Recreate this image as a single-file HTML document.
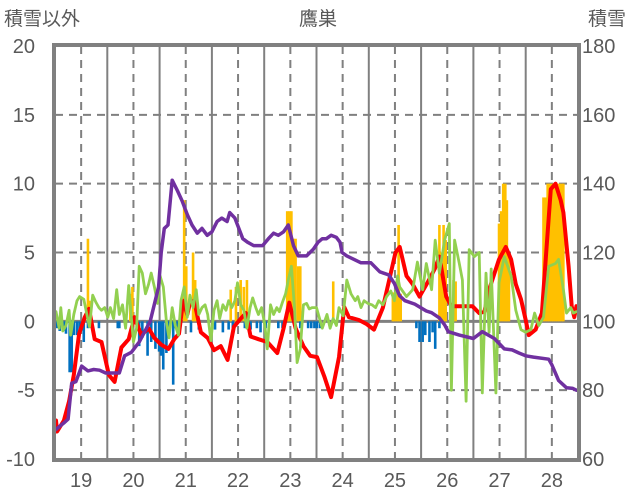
<!DOCTYPE html>
<html><head><meta charset="utf-8">
<style>
html,body{margin:0;padding:0;background:#fff;}
svg{display:block;font-family:"Liberation Sans","Noto Sans CJK JP",sans-serif;}
</style></head>
<body>
<svg id="chart" width="636" height="501" viewBox="0 0 636 501" xmlns="http://www.w3.org/2000/svg">
<text x="318" y="25" font-size="19" fill="#595959" text-anchor="middle">鷹巣</text>
<text x="4" y="25" font-size="19" fill="#595959">積雪以外</text>
<text x="588" y="25" font-size="19" fill="#595959">積雪</text>
<g id="grid"></g>
<g id="bars"></g>
<g id="lines"></g>
<g id="frame"></g>
<g id="ticks"></g>
</svg>
<script>
const leftTicks=[-10,-5,0,5,10,15,20];
const rightTicks=[60,80,100,120,140,160,180];
const xLabels=[19,20,21,22,23,24,25,26,27,28];
const redX=[18.52,18.54,18.67,18.77,18.86,18.96,19.07,19.15,19.26,19.39,19.53,19.64,19.77,19.91,20.02,20.15,20.29,20.40,20.53,20.67,20.78,20.87,20.95,21.03,21.08,21.16,21.29,21.42,21.54,21.67,21.80,21.92,22.05,22.15,22.24,22.39,22.56,22.75,22.87,22.98,23.10,23.25,23.38,23.51,23.65,23.78,23.93,24.03,24.12,24.31,24.46,24.60,24.77,24.92,25.01,25.09,25.22,25.34,25.47,25.62,25.76,25.85,25.98,26.08,26.29,26.48,26.61,26.71,26.80,26.99,27.12,27.22,27.31,27.41,27.50,27.56,27.69,27.81,27.90,27.98,28.07,28.17,28.22,28.32,28.38,28.43,28.47];
const redY=[-7.2,-8.0,-7.2,-5.8,-3.9,-0.9,0.3,0.9,-1.3,-1.5,-3.9,-4.4,-1.9,-1.3,0.3,-1.0,-0.5,-1.2,-1.7,-2.0,-1.3,-0.9,1.5,0.5,1.3,1.5,-0.8,-1.2,-2.1,-1.8,-2.8,-0.4,0.2,0.6,-1.1,-1.3,-1.5,-2.3,-0.5,1.35,-0.5,-1.8,-2.5,-2.6,-4.0,-5.5,-2.6,1.05,0.3,0.1,-0.2,-0.6,1.0,3.5,5.0,5.4,3.3,2.7,1.8,2.8,3.8,4.7,1.8,1.1,1.1,1.1,0.6,0.7,2.3,4.5,5.4,4.5,2.7,1.6,0.1,-1.0,-0.6,0.6,5.4,9.6,10.0,8.8,7.9,4.0,1.1,0.3,1.1];
const greenX=[18.52,18.58,18.61,18.65,18.71,18.77,18.80,18.86,18.92,18.97,19.05,19.11,19.16,19.22,19.28,19.34,19.39,19.45,19.51,19.56,19.62,19.68,19.73,19.79,19.85,19.91,19.94,20.00,20.06,20.11,20.17,20.23,20.29,20.34,20.40,20.46,20.51,20.57,20.63,20.68,20.74,20.80,20.86,20.91,20.97,21.03,21.08,21.14,21.20,21.25,21.31,21.37,21.42,21.48,21.54,21.60,21.65,21.71,21.77,21.82,21.88,21.94,21.99,22.05,22.11,22.17,22.23,22.28,22.34,22.39,22.45,22.51,22.56,22.62,22.68,22.74,22.79,22.85,22.91,22.96,23.02,23.08,23.13,23.19,23.25,23.31,23.36,23.42,23.50,23.61,23.70,23.76,23.82,23.88,23.93,24.01,24.08,24.16,24.24,24.29,24.35,24.41,24.48,24.56,24.63,24.69,24.77,24.84,24.92,24.99,25.05,25.09,25.22,25.34,25.43,25.53,25.60,25.70,25.77,25.85,25.95,26.04,26.08,26.14,26.23,26.29,26.36,26.42,26.52,26.61,26.67,26.74,26.80,26.84,26.93,26.99,27.09,27.22,27.31,27.41,27.50,27.60,27.67,27.75,27.84,27.94,28.07,28.13,28.22,28.28,28.36,28.41,28.47];
const greenY=[0.7,-0.5,1.0,-0.7,-0.3,0.8,-1.0,0.5,1.5,1.8,1.6,0.5,-0.4,1.9,1.4,1.0,0.8,1.0,0.3,1.0,0.2,2.3,0.5,1.2,-0.5,2.6,1.2,-1.5,-0.5,4.0,3.5,2.0,2.7,3.5,2.5,1.3,3.3,2.5,0.0,-1.2,1.0,-0.3,-1.0,1.5,2.5,0.3,1.9,1.0,2.3,0.5,1.0,1.2,0.5,-1.4,0.8,1.5,0.2,1.2,0.8,1.5,1.0,1.5,2.8,1.2,0.8,-0.5,1.0,1.7,1.0,0.5,1.0,-0.2,-2.0,1.2,0.5,1.0,0.7,1.4,2.0,3.0,4.0,1.0,-3.0,-2.0,1.2,1.3,0.9,1.0,1.0,-0.5,0.5,-0.5,0.2,-0.3,1.0,0.4,3.0,2.0,1.5,1.8,1.0,1.5,1.3,1.2,1.0,1.5,1.2,1.8,2.2,1.5,3.3,2.5,1.8,2.3,4.3,2.3,4.2,2.3,5.9,3.5,5.9,7.1,-5.0,5.9,4.2,3.0,-5.8,5.2,4.7,5.0,-5.2,3.5,-0.8,3.8,-5.2,2.8,4.7,3.3,0.8,-0.6,-0.8,-0.6,0.6,-0.3,0.3,4.0,4.2,4.5,2.3,0.6,1.0,0.6,0.7];
const purpleX=[18.52,18.67,18.75,18.82,18.90,19.01,19.13,19.24,19.35,19.47,19.62,19.73,19.83,19.96,20.11,20.25,20.32,20.48,20.53,20.59,20.66,20.74,20.84,20.93,21.03,21.12,21.22,21.31,21.41,21.50,21.60,21.69,21.79,21.84,21.94,22.09,22.18,22.30,22.47,22.58,22.68,22.77,22.87,22.96,23.06,23.15,23.31,23.44,23.53,23.61,23.69,23.78,23.88,23.95,23.99,24.08,24.35,24.54,24.71,24.88,24.99,25.09,25.19,25.38,25.60,25.70,25.85,25.95,26.02,26.23,26.50,26.67,26.90,27.09,27.24,27.37,27.50,27.65,27.94,28.00,28.13,28.28,28.40,28.47];
const purpleY=[68.6,70.5,71.6,82,82.5,87,85.6,86,85.8,85,85,85,90,91,94,98,100,110,120,127,128,141,138,135,131,128,125.6,127,125,126,129,130,129,131.6,130,124,123,122,122,124,125.6,125,126,128,122,119,119,121,123,124,124,125,124.4,123,120,119,117,117,114.4,113.5,111,107.4,106,105,103,102.5,101,99,97,96,95,97,95,92,91.7,90.8,90,89.6,89,87.4,82.8,80.7,80.5,80];
const orangeX=[19.13,19.16,19.94,19.98,20.97,21.01,21.14,21.18,21.86,21.96,22.05,22.11,22.17,22.94,22.98,23.02,23.06,23.10,23.15,23.19,23.82,24.96,24.99,25.03,25.07,25.11,25.85,25.89,25.93,25.97,26.06,26.12,26.16,26.99,27.03,27.07,27.11,27.14,27.18,27.84,27.88,27.92,27.96,28.00,28.03,28.07,28.11,28.15,28.19,28.22];
const orangeY=[6.0,1.5,2.0,2.5,8.8,4.0,5.0,3.0,2.3,2.5,3.0,2.5,3.0,8.0,8.0,8.0,6.0,6.0,4.0,4.0,2.9,2.1,2.1,2.1,7.0,2.0,7.0,5.0,7.0,5.9,1.0,3.0,2.9,7.1,8.0,10,10,8.8,4.7,9.0,9.0,10,10,10,10,10,10,10,10,10];
const blueX=[18.54,18.59,18.67,18.71,18.78,18.82,18.86,18.92,18.97,19.05,19.13,19.34,19.70,19.73,19.98,20.11,20.17,20.27,20.34,20.42,20.49,20.53,20.57,20.63,20.68,20.76,20.84,21.10,21.25,21.56,21.71,21.82,21.90,22.13,22.24,22.36,22.43,22.53,22.77,22.85,23.19,23.34,23.40,23.46,23.51,23.57,25.41,25.47,25.53,25.58,25.66,25.72,25.77,25.85];
const blueY=[-0.5,-0.7,-0.7,-0.9,-3.7,-3.7,-1.0,-1.0,-0.7,-1.5,-0.5,-0.5,-0.5,-0.5,-0.8,-1.8,-1.2,-2.5,-1.5,-2.0,-2.2,-2.5,-3.5,-2.3,-1.0,-4.6,-0.5,-0.8,-0.6,-0.6,-0.8,-0.6,-0.6,-0.5,-0.6,-0.5,-0.8,-0.5,-0.5,-0.5,-0.5,-0.5,-0.5,-0.5,-0.5,-0.5,-0.5,-1.5,-1.5,-1.0,-1.5,-0.8,-2.0,-0.5];

const NS='http://www.w3.org/2000/svg';
const PL=55,PR=578,PT=46,PB=459;
const X0=18.5,X1=28.5;
function xs(v){return PL+(v-X0)/(X1-X0)*(PR-PL);}
function yl(v){return PB-(v+10)/30*(PB-PT);}
function yr(v){return PB-(v-60)/120*(PB-PT);}
function mk(tag,attrs,parent){const e=document.createElementNS(NS,tag);for(const k in attrs)e.setAttribute(k,attrs[k]);parent.appendChild(e);return e;}
const grid=document.getElementById('grid'),bars=document.getElementById('bars'),lines=document.getElementById('lines'),frame=document.getElementById('frame'),ticks=document.getElementById('ticks');
// vertical grid
for(let y=19;y<=28;y++){
  const g=mk('line',{x1:xs(y),x2:xs(y),y1:PT,y2:PB,stroke:'#808080','stroke-width':2,'stroke-dasharray':'8,6'},grid);
  
  
  if(y<28){
    const s=mk('line',{x1:xs(y+0.5),x2:xs(y+0.5),y1:PT,y2:PB,stroke:'#808080','stroke-width':2},grid);
    
    
  }
}
leftTicks.forEach(v=>{
  if(v===-10||v===20)return;
  const g=mk('line',{x1:PL,x2:PR,y1:yl(v),y2:yl(v),stroke:'#808080','stroke-width':v===0?3:2,'stroke-dasharray':v===0?'none':'8,6'},grid);
  
  
});
function barSet(X,Y,color,name){
  X.forEach((x,i)=>{
    const v=Y[i];const y0=yl(0),y1=yl(v);
    const r=mk('rect',{x:xs(x)-1.3,width:2.6,y:Math.min(y0,y1),height:Math.abs(y1-y0),fill:color},bars);
    
    
  });
}
barSet(orangeX,orangeY,'#FFC000','orange-bar');
barSet(blueX,blueY,'#0070C0','blue-bar');
function line(X,Y,fy,color,w,name){
  const d=X.map((x,i)=>(i?'L':'M')+xs(x).toFixed(1)+','+fy(Y[i]).toFixed(1)).join('');
  const p=mk('path',{d:d,fill:'none',stroke:color,'stroke-width':w,'stroke-linejoin':'round','stroke-linecap':'round'},lines);
  
  
}
line(redX,redY,yl,'#FF0000',4,'red-line');
line(greenX,greenY,yl,'#92D050',2.8,'green-line');
line(purpleX,purpleY,yr,'#7030A0',3.5,'purple-line');
const fr=mk('rect',{x:PL-1,y:PT-1,width:PR-PL+2,height:PB-PT+2,fill:'none',stroke:'#808080','stroke-width':4},frame);


leftTicks.forEach(v=>{
  const t=mk('text',{x:35,y:yl(v)+7,'font-size':20,fill:'#595959','text-anchor':'end'},ticks);
  t.textContent=v;
  
  
});
rightTicks.forEach(v=>{
  const t=mk('text',{x:582,y:yr(v)+7,'font-size':20,fill:'#595959'},ticks);
  t.textContent=v;
  
  
});
xLabels.forEach(v=>{
  const t=mk('text',{x:xs(v),y:487,'font-size':20,fill:'#595959','text-anchor':'middle'},ticks);
  t.textContent=v;
  
  
});
</script>
</body></html>
